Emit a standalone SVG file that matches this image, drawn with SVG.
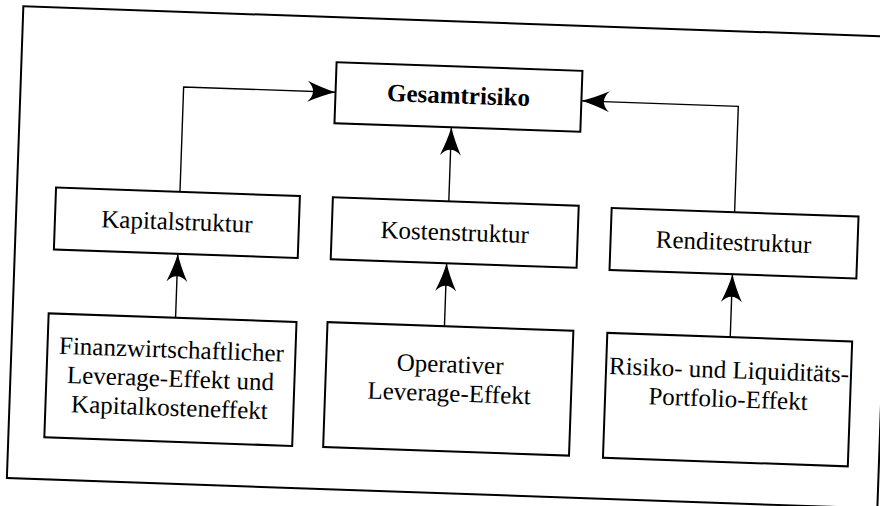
<svg xmlns="http://www.w3.org/2000/svg" width="880" height="506" viewBox="0 0 880 506">
<style>
.box{fill:#fff;stroke:#000;stroke-width:2}
.lbl{font-family:"Liberation Serif","Times New Roman",serif;font-size:25px;fill:#000;text-anchor:middle}
.b{font-weight:bold}
.con{fill:none;stroke:#000;stroke-width:1.4}
</style>
<defs>
<marker id="ah" markerUnits="userSpaceOnUse" markerWidth="34" markerHeight="26" viewBox="-30 -13 32 26" refX="0" refY="0" orient="auto">
<path d="M0,0 Q-13,-3.5 -28,-10.5 Q-17,0 -28,10.5 Q-13,3.5 0,0Z" fill="#000"/>
</marker>
</defs>
<rect width="880" height="506" fill="#fff"/>
<g transform="rotate(2 440 253)">
<rect id="frame" x="15" y="21" width="871" height="472" fill="none" stroke="#000" stroke-width="2"/>
<g id="connectors">
<path class="con" d="M178,201 V96 H330" marker-end="url(#ah)"/>
<path class="con" d="M733,202 V96 H576" marker-end="url(#ah)"/>
<path class="con" d="M447,201 V127" marker-end="url(#ah)"/>
<path class="con" d="M178,327 V263" marker-end="url(#ah)"/>
<path class="con" d="M447,326 V263" marker-end="url(#ah)"/>
<path class="con" d="M733,327 V264" marker-end="url(#ah)"/>
</g>
<g id="gesamtrisiko">
<rect class="box" x="330" y="66" width="246" height="61"/>
<text class="lbl b" x="453" y="103">Gesamtrisiko</text>
</g>
<g id="kapitalstruktur">
<rect class="box" x="54" y="201" width="244" height="62"/>
<text class="lbl" x="176" y="239">Kapitalstruktur</text>
</g>
<g id="kostenstruktur">
<rect class="box" x="331" y="201" width="246" height="62"/>
<text class="lbl" x="454" y="240">Kostenstruktur</text>
</g>
<g id="renditestruktur">
<rect class="box" x="610" y="202" width="247" height="62"/>
<text class="lbl" x="733" y="240">Renditestruktur</text>
</g>
<g id="finanz">
<rect class="box" x="51" y="327" width="248" height="124"/>
<text class="lbl" x="175" y="367">Finanzwirtschaftlicher</text>
<text class="lbl" x="175" y="396">Leverage-Effekt und</text>
<text class="lbl" x="175" y="425">Kapitalkosteneffekt</text>
</g>
<g id="operativ">
<rect class="box" x="330" y="326" width="246" height="125"/>
<text class="lbl" x="454" y="372">Operativer</text>
<text class="lbl" x="454" y="401">Leverage-Effekt</text>
</g>
<g id="risiko">
<rect class="box" x="610" y="327" width="245" height="125"/>
<text class="lbl" x="733" y="368">Risiko- und Liquiditäts-</text>
<text class="lbl" x="733" y="397">Portfolio-Effekt</text>
</g>
</g>
</svg>
